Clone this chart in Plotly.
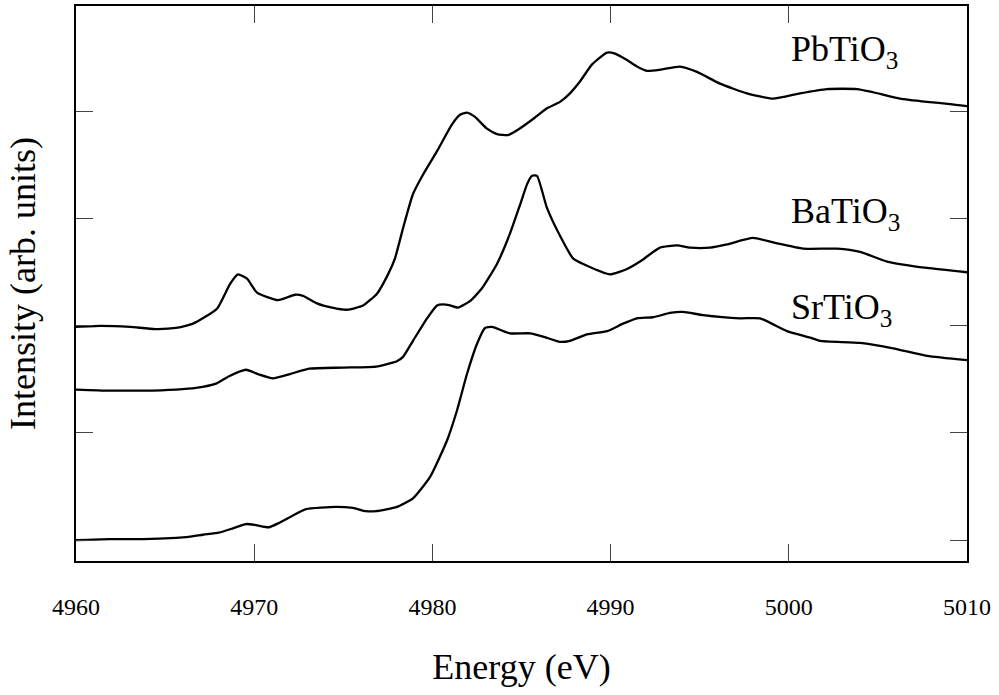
import plotly.graph_objects as go

# ---- data (energy in eV, intensity in arb. units, offset per spectrum) ----
pb_energy = [4960.0, 4961.35, 4963.03, 4964.43, 4965.61, 4966.57, 4967.91, 4968.64, 4969.09, 4969.60,
             4970.16, 4971.34, 4972.29, 4972.74, 4973.52, 4974.37, 4975.21, 4976.11, 4976.89, 4977.51,
             4977.90, 4978.35, 4978.91, 4979.47, 4980.26, 4981.10, 4981.55, 4981.94, 4982.39, 4983.06,
             4983.63, 4984.24, 4984.80, 4985.65, 4986.43, 4987.16, 4987.72, 4988.28, 4988.96, 4989.80,
             4990.25, 4990.92, 4991.48, 4992.04, 4992.77, 4993.89, 4994.85, 4996.14, 4997.65, 4999.11,
             5000.63, 5002.14, 5003.83, 5004.73, 5006.24, 5007.76, 5009.05, 5010.0]
pb_intensity = [1.99, 2.00, 1.99, 1.97, 1.98, 2.02, 2.16, 2.39, 2.48, 2.44,
                2.31, 2.24, 2.29, 2.28, 2.21, 2.17, 2.15, 2.19, 2.30, 2.48,
                2.63, 2.91, 3.23, 3.41, 3.63, 3.88, 3.97, 3.99, 3.95, 3.84,
                3.79, 3.78, 3.83, 3.93, 4.03, 4.09, 4.17, 4.28, 4.44, 4.55,
                4.54, 4.48, 4.42, 4.38, 4.39, 4.42, 4.37, 4.26, 4.17, 4.12,
                4.17, 4.21, 4.21, 4.18, 4.12, 4.09, 4.07, 4.05]

ba_energy = [4960.0, 4961.85, 4963.76, 4965.61, 4966.73, 4967.86, 4968.59, 4969.54, 4970.21, 4971.05,
             4972.01, 4973.08, 4974.98, 4976.84, 4978.01, 4978.35, 4978.91, 4979.70, 4980.26, 4980.59,
             4980.99, 4981.44, 4982.11, 4982.78, 4983.63, 4984.35, 4984.92, 4985.31, 4985.59, 4985.87,
             4986.43, 4987.16, 4987.89, 4988.68, 4989.97, 4990.92, 4991.65, 4992.77, 4993.73, 4994.46,
             4995.58, 4996.53, 4997.99, 4999.34, 5000.80, 5002.71, 5004.00, 5005.51, 5007.76, 5010.0]
ba_intensity = [1.405, 1.395, 1.395, 1.405, 1.42, 1.46, 1.53, 1.59, 1.55, 1.51,
                1.55, 1.60, 1.61, 1.62, 1.67, 1.71, 1.86, 2.07, 2.19, 2.20,
                2.19, 2.17, 2.23, 2.35, 2.58, 2.86, 3.13, 3.32, 3.40, 3.40,
                3.10, 2.84, 2.63, 2.56, 2.48, 2.53, 2.60, 2.73, 2.75, 2.73,
                2.73, 2.76, 2.82, 2.77, 2.72, 2.72, 2.69, 2.60, 2.54, 2.50]

sr_energy = [4960.0, 4961.85, 4963.76, 4965.61, 4966.34, 4967.13, 4968.02, 4968.81, 4969.54, 4970.10,
             4970.83, 4971.39, 4972.18, 4972.91, 4974.59, 4975.54, 4976.27, 4976.84, 4978.01, 4978.91,
             4979.87, 4980.82, 4981.38, 4981.94, 4982.50, 4982.95, 4983.34, 4984.35, 4985.48, 4986.21,
             4987.16, 4987.72, 4988.68, 4989.80, 4990.70, 4991.48, 4992.38, 4993.33, 4994.06, 4995.19,
             4997.26, 4998.38, 4999.90, 5001.19, 5001.75, 5004.00, 5005.85, 5007.76, 5010.0]
sr_intensity = [0.00, 0.01, 0.01, 0.02, 0.03, 0.05, 0.07, 0.11, 0.15, 0.14,
                0.12, 0.16, 0.23, 0.29, 0.31, 0.30, 0.27, 0.27, 0.31, 0.39,
                0.59, 0.93, 1.21, 1.55, 1.83, 1.98, 1.99, 1.93, 1.93, 1.90,
                1.85, 1.86, 1.92, 1.95, 2.02, 2.07, 2.08, 2.12, 2.13, 2.10,
                2.07, 2.07, 1.95, 1.89, 1.86, 1.84, 1.79, 1.72, 1.68]

labels = ["PbTiO<sub>3</sub>", "BaTiO<sub>3</sub>", "SrTiO<sub>3</sub>"]
label_x = [5000.0, 5000.0, 5000.0]
label_y = [4.56, 3.05, 2.15]

x_ticks = [4960, 4970, 4980, 4990, 5000, 5010]
x_tick_text = ["4960", "4970", "4980", "4990", "5000", "5010"]
y_ticks = [0, 1, 2, 3, 4]

FONT = "Liberation Serif, Times New Roman, serif"

fig = go.Figure()
for xs, ys in [(pb_energy, pb_intensity), (ba_energy, ba_intensity), (sr_energy, sr_intensity)]:
    fig.add_trace(go.Scatter(x=xs, y=ys, mode="lines",
                             line=dict(color="black", width=2.3, shape="spline", smoothing=0.5),
                             showlegend=False, hoverinfo="skip"))

for t, lx, ly in zip(labels, label_x, label_y):
    fig.add_annotation(x=lx, y=ly, text=t, showarrow=False, xanchor="left", yanchor="middle",
                       font=dict(family=FONT, size=36, color="black"))

fig.update_layout(
    width=999, height=695,
    margin=dict(l=76, r=32, t=4, b=134),
    paper_bgcolor="white", plot_bgcolor="white",
    font=dict(family=FONT, color="black", size=24),
    xaxis=dict(
        range=[4960, 5010], tickvals=x_ticks, showticklabels=False,
        ticks="inside", ticklen=17, tickwidth=1, tickcolor="#444",
        showline=True, linecolor="black", linewidth=2, mirror="ticks", showgrid=False, zeroline=False,
    ),
    # label-only axis: transparent outside ticks push the labels below the frame
    xaxis2=dict(
        overlaying="x", anchor="y", side="bottom", matches="x",
        range=[4960, 5010], tickvals=x_ticks, ticktext=x_tick_text,
        ticks="outside", ticklen=24, tickcolor="rgba(0,0,0,0)",
        showline=False, showgrid=False, zeroline=False,
        tickfont=dict(family=FONT, size=24, color="black"),
        title=dict(text="Energy (eV)", font=dict(family=FONT, size=36, color="black"), standoff=35),
    ),
    yaxis=dict(
        range=[-0.195, 4.985], tickvals=y_ticks, ticks="inside", ticklen=17, tickwidth=1, tickcolor="#444",
        showline=True, linecolor="black", linewidth=2, mirror="ticks", showgrid=False, zeroline=False,
        showticklabels=False,
        title=dict(text="Intensity (arb. units)", font=dict(family=FONT, size=36, color="black"), standoff=27),
    ),
)
# an invisible companion trace so that the label axis is drawn
fig.add_trace(go.Scatter(x=[x_ticks[0], x_ticks[-1]], y=[None, None], xaxis="x2", yaxis="y",
                         mode="lines", showlegend=False, hoverinfo="skip"))

fig.write_html("out.html")
